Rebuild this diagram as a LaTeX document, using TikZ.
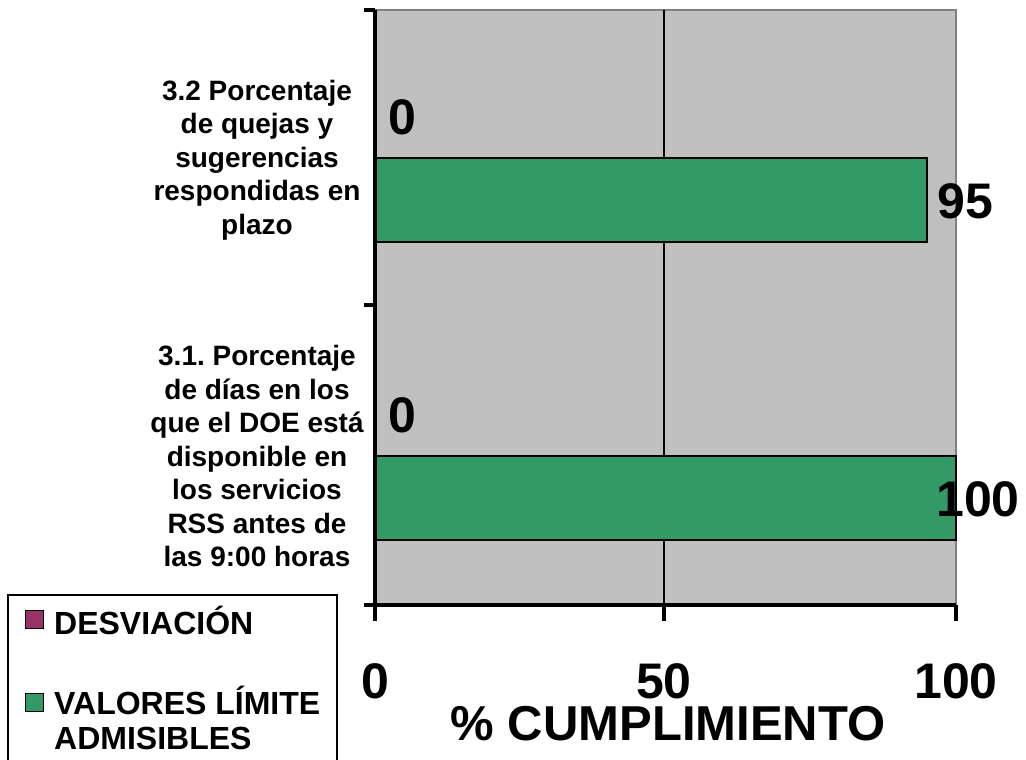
\documentclass[tikz,border=0pt]{standalone}
\usepackage{fontspec}
\setmainfont{Liberation Sans}
\frenchspacing
\definecolor{plotgray}{HTML}{C0C0C0}
\definecolor{framegray}{HTML}{808080}
\definecolor{limitgreen}{HTML}{339966}
\definecolor{devpurple}{HTML}{993366}
\tikzset{
  bignum/.style={font=\bfseries\fontsize{50}{60}\selectfont, inner sep=0pt},
  catlabel/.style={font=\bfseries\fontsize{28}{33.5}\selectfont, align=center, inner sep=0pt},
  legtext/.style={font=\bfseries\fontsize{32}{35}\selectfont, align=left, inner sep=0pt, anchor=west},
  legkey/.style={draw=black, line width=1pt},
  bar/.style={draw=black, line width=1.5pt, fill=limitgreen},
  axisline/.style={line width=4pt}
}
\begin{document}
\begin{tikzpicture}[x=1pt,y=-1pt]
    \useasboundingbox (0,0) rectangle (1026,760);
    \clip (0,0) rectangle (1026,760);

    % Plot area
    \fill[plotgray] (375,10) rectangle (956,605);
    \draw[framegray, line width=2pt] (375,10) -- (956,10) -- (956,605);
    \draw[line width=1.5pt] (664,10) -- (664,605);

    % Bars (valores limite admisibles)
    \draw[bar] (375,158) rectangle (927,242);
    \draw[bar] (375,456) rectangle (956,540);

    % Axes and ticks
    \draw[axisline] (375,10) -- (375,605);
    \draw[axisline] (365,605) -- (956,605);
    \foreach \y in {10,305,605}
        \draw[axisline] (364,\y) -- (375,\y);
    \foreach \x in {375,664,956}
        \draw[axisline] (\x,605) -- (\x,621);

    % Data labels
    \node[bignum, anchor=west] (dev32) at (388,117) {0};
    \node[bignum, anchor=west] (val32) at (937,201) {95};
    \node[bignum, anchor=west] (dev31) at (388,415) {0};
    \node[bignum, anchor=west] (val31) at (936,499) {100};

    % Category labels
    \node[catlabel] (cat32) at (257,160)
        {3.2 Porcentaje\\de quejas y\\sugerencias\\respondidas en\\plazo};
    \node[catlabel] (cat31) at (257,456)
        {3.1. Porcentaje\\de días en los\\que el DOE está\\disponible en\\los servicios\\RSS antes de\\las 9:00 horas};

    % Axis tick labels and title
    \node[bignum] (tick0) at (375,681) {0};
    \node[bignum] (tick50) at (664,681) {50};
    \node[bignum] (tick100) at (956,681) {100};
    \node[font=\bfseries\fontsize{49}{58}\selectfont, inner sep=0pt] (xtitle) at (668,724) {\% CUMPLIMIENTO};

    % Legend
    \draw[line width=1.5pt] (8,595) rectangle (337,790);
    \draw[legkey, fill=devpurple] (25,610) rectangle (43,628);
    \node[legtext] (legdev) at (54,620) {DESVIACIÓN};
    \draw[legkey, fill=limitgreen] (25,693) rectangle (43,711);
    \node[legtext, anchor=north west] (leglim) at (54,686) {VALORES LÍMITE\\ADMISIBLES};
\end{tikzpicture}
\end{document}
